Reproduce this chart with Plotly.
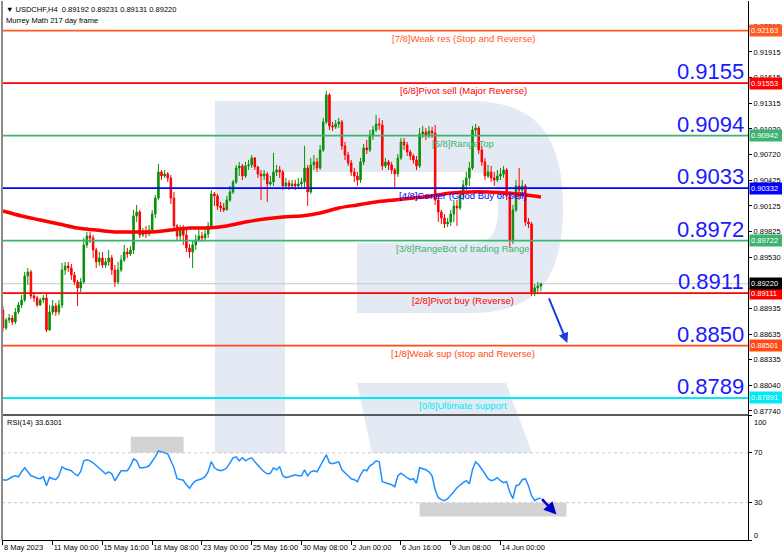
import plotly.graph_objects as go

# ---------------- data ----------------
symbol_header = "\u25BC USDCHF,H4  0.89192 0.89231 0.89131 0.89220"
indicator_header = "Murrey Math 217 day frame"
rsi_header = "RSI(14) 33.6301"

first_open = 0.88915
close5 = [
    88705, 88798, 88821, 88775, 88891, 88973, 89031, 89310, 89357, 89078,
    89054, 88973, 89031, 89054, 88682, 88891, 88961, 88891, 88973, 89380,
    89427, 89403, 89322, 89241, 89171, 89241, 89671, 89775, 89752, 89613,
    89473, 89520, 89438, 89473, 89520, 89380, 89241, 89380, 89496, 89589,
    89566, 89613, 90008, 90054, 89787, 89822, 89799, 89845, 90031, 90217,
    90520, 90473, 90496, 90450, 90217, 89892, 89775, 89845, 89787, 89636,
    89589, 89671, 89729, 89775, 89752, 89799, 89892, 90264, 90241, 90124,
    90101, 90078, 90194, 90287, 90403, 90566, 90590, 90473, 90590, 90601,
    90683, 90578, 90496, 90473, 90496, 90380, 90403, 90520, 90543, 90520,
    90357, 90392, 90357, 90380, 90357, 90380, 90403, 90566, 90287, 90601,
    90636, 90566, 90776, 91101, 91415, 91055, 91043, 91078, 91101, 90822,
    90717, 90624, 90520, 90473, 90427, 90636, 90799, 90776, 90950, 91008,
    91078, 91066, 90590, 90636, 90601, 90543, 90496, 90683, 90869, 90834,
    90752, 90706, 90659, 90590, 90962, 90985, 90950, 90996, 90973, 90194,
    90054, 89985, 89915, 89938, 90031, 90124, 90101, 90252, 90369, 90450,
    90566, 91008, 91031, 90776, 90636, 90473, 90520, 90450, 90427, 90473,
    90496, 90543, 90241, 89729, 90078, 90357, 90310, 90357, 89938, 89915,
    89124, 89171, 89192, 89220]
high5 = [
    88962, 88821, 88868, 88856, 88938, 89008, 89089, 89357, 89403, 89380,
    89124, 89078, 89054, 89089, 89101, 88973, 89031, 88996, 89031, 89462,
    89473, 89473, 89450, 89357, 89264, 89287, 89752, 89822, 89822, 89787,
    89636, 89589, 89589, 89520, 89613, 89555, 89438, 89473, 89555, 89671,
    89636, 89659, 90078, 90136, 90078, 89868, 89892, 89903, 90078, 90252,
    90613, 90543, 90543, 90520, 90485, 90287, 89915, 89903, 89903, 89845,
    89682, 89729, 89787, 89845, 89822, 89845, 89938, 90310, 90287, 90264,
    90171, 90159, 90241, 90357, 90427, 90601, 90636, 90613, 90636, 90659,
    90717, 90694, 90590, 90543, 90543, 90520, 90473, 90741, 90601, 90590,
    90543, 90450, 90427, 90427, 90427, 90450, 90450, 90822, 90601, 90683,
    90717, 90683, 90834, 91148, 91462, 91438, 91101, 91124, 91148, 91124,
    90869, 90752, 90659, 90566, 90520, 90683, 90845, 90892, 91008, 91055,
    91183, 91148, 91124, 90683, 90659, 90636, 90566, 90729, 90915, 90915,
    90869, 90776, 90729, 90706, 91031, 91055, 91031, 91055, 91043, 91066,
    90241, 90078, 90031, 89985, 90078, 90194, 90194, 90310, 90427, 90520,
    90636, 91055, 91078, 91055, 90822, 90683, 90601, 90590, 90520, 90543,
    90566, 90590, 90566, 90252, 90136, 90427, 90566, 90427, 90380, 89985,
    89938, 89217, 89241, 89231]
low5 = [
    88659, 88682, 88763, 88740, 88752, 88868, 88938, 89008, 89206, 89043,
    89008, 88950, 88961, 88996, 88659, 88671, 88856, 88845, 88856, 88938,
    89322, 89357, 89264, 89206, 88961, 89124, 89217, 89636, 89694, 89520,
    89403, 89427, 89403, 89403, 89427, 89322, 89182, 89217, 89357, 89473,
    89520, 89543, 89566, 89938, 89752, 89764, 89752, 89775, 89822, 89985,
    90194, 90427, 90450, 90403, 90147, 89845, 89729, 89729, 89671, 89589,
    89520, 89403, 89613, 89706, 89706, 89729, 89752, 89868, 90124, 90078,
    90054, 90054, 90078, 90171, 90264, 90380, 90473, 90427, 90450, 90543,
    90566, 90543, 90450, 90194, 90427, 90171, 90357, 90357, 90473, 90450,
    90310, 90334, 90310, 90334, 90310, 90334, 90345, 90334, 90124, 90264,
    90543, 90520, 90543, 90752, 91078, 91008, 90996, 91020, 91031, 90776,
    90659, 90590, 90473, 90403, 90357, 90392, 90601, 90729, 90752, 90892,
    90985, 91008, 90543, 90566, 90543, 90496, 90345, 90462, 90659, 90776,
    90706, 90659, 90613, 90543, 90566, 90915, 90892, 90915, 90915, 90136,
    89938, 89915, 89868, 89880, 89892, 89938, 89892, 90078, 90194, 90310,
    90357, 90543, 90938, 90729, 90590, 90427, 90450, 90403, 90357, 90403,
    90427, 90450, 90194, 89636, 89682, 90054, 90194, 90241, 89892, 89868,
    89078, 89078, 89124, 89131]

rsi_vals = [
    48.4, 48.0, 49.2, 50.8, 51.6, 50.8, 54.8, 58.0, 54.8, 51.6,
    50.8, 49.6, 49.2, 50.8, 43.6, 50.4, 49.2, 48.4, 51.6, 58.8,
    57.2, 56.4, 55.6, 53.2, 51.6, 54.8, 63.6, 64.4, 63.6, 62.0,
    59.6, 58.0, 55.6, 53.2, 54.8, 53.2, 47.6, 51.6, 55.6, 55.6,
    55.6, 59.6, 65.2, 63.6, 58.0, 58.0, 58.4, 59.6, 62.8, 66.8,
    71.6, 70.8, 70.0, 69.2, 63.6, 58.0, 49.2, 48.4, 48.0, 44.4,
    41.6, 45.2, 47.6, 48.4, 49.2, 50.8, 54.8, 63.0, 58.0, 56.4,
    55.6, 56.4, 58.0, 62.0, 66.0, 66.8, 63.6, 66.0, 63.6, 65.2,
    66.0, 62.8, 59.6, 57.2, 54.8, 53.2, 53.6, 58.0, 56.4, 58.8,
    51.6, 50.0, 50.8, 51.6, 52.4, 51.6, 51.6, 56.4, 51.6, 54.8,
    55.6, 54.8, 59.6, 64.4, 68.4, 62.0, 61.2, 62.0, 62.8, 56.4,
    53.6, 51.6, 49.2, 48.4, 46.8, 52.4, 56.4, 55.6, 59.6, 61.2,
    63.6, 62.8, 46.8, 46.0, 45.2, 44.4, 42.8, 51.6, 53.6, 51.6,
    50.0, 48.4, 49.2, 45.6, 58.0, 57.2, 56.4, 54.8, 51.6, 40.4,
    34.0, 32.4, 31.6, 33.2, 35.6, 38.8, 42.0, 44.4, 46.0, 47.6,
    45.2, 56.4, 62.8, 60.4, 57.2, 53.2, 49.2, 47.6, 48.4, 50.0,
    47.6, 46.0, 46.8, 38.4, 33.2, 43.6, 44.4, 48.4, 49.2, 43.6,
    35.6, 31.6, 33.2, 33.63]

ma_bar = [0, 6, 12, 18, 24, 30, 36, 42, 48, 54, 60, 66, 72, 78, 84, 90, 96,
          102, 108, 114, 120, 126, 132, 138, 144, 150, 156, 162, 168, 173]
ma_val = [0.90066, 0.90008, 0.89961, 0.89915, 0.89868, 0.89845, 0.89822,
          0.89822, 0.89822, 0.89845, 0.89868, 0.89868, 0.89892, 0.89938,
          0.89973, 0.89996, 0.90008, 0.90043, 0.90101, 0.90136, 0.90171,
          0.90194, 0.90217, 0.90241, 0.90275, 0.90287, 0.90287, 0.90275,
          0.90252, 0.90229]

time_tick_bar = [0, 16, 32, 48, 64, 80, 96, 112, 128, 144, 160]
time_tick_text = ["8 May 2023", "11 May 00:00", "15 May 16:00", "18 May 08:00",
                  "23 May 00:00", "25 May 16:00", "30 May 08:00", "2 Jun 00:00",
                  "6 Jun 16:00", "9 Jun 08:00", "14 Jun 00:00"]

price_ticks = [0.92215, 0.91915, 0.91615, 0.91315, 0.91020, 0.90720, 0.90425,
               0.90125, 0.89825, 0.89530, 0.88935, 0.88635, 0.88335,
               0.88040, 0.87740]
rsi_ticks = [100, 70, 30, 0]
rsi_tick_shift = [-7, 0, 0, 5]

murrey_levels = [0.92163, 0.91553, 0.90942, 0.90332, 0.89722, 0.89111, 0.88501, 0.87891]
murrey_names = ["[7/8]Weak res (Stop and Reverse)", "[6/8]Pivot sell (Major Reverse)",
                "[5/8]RangeTop", "[4/8]Center (Good Buy or Sell)",
                "[3/8]RangeBot of trading Range", "[2/8]Pivot buy (Reverse)",
                "[1/8]Weak sup (stop and Reverse)", "[0/8]Ultimate support"]
murrey_big = ["", "0.9155", "0.9094", "0.9033", "0.8972", "0.8911", "0.8850", "0.8789"]
murrey_colors = ["#ff5a1f", "#ff0000", "#3cb371", "#0000ff", "#3cb371", "#ff0000", "#ff4a14", "#00eaf5"]

current_price = 0.89220

# arrows (tail -> head)
price_arrow = dict(x0=175.4, y0=0.89066, x1=181.5, y1=0.88531)
rsi_arrow = dict(x0=172.9, y0=34.0, x1=178.0, y1=20.4)
rsi_boxes = [dict(x0=41.1, x1=58.1, y0=70, y1=83), dict(x0=134.0, x1=181.2, y0=18.8, y1=30)]

# ---------------- build ----------------
close_p = [v / 1e5 for v in close5]
open_p = [first_open] + close_p[:-1]
high_p = [max(h / 1e5, o, c) for h, o, c in zip(high5, open_p, close_p)]
low_p = [min(l / 1e5, o, c) for l, o, c in zip(low5, open_p, close_p)]
bars = list(range(len(close_p)))

fig = go.Figure()
fig.add_trace(go.Candlestick(
    x=bars, open=open_p, high=high_p, low=low_p, close=close_p,
    increasing=dict(line=dict(color="#0b8f0b", width=1), fillcolor="#0b8f0b"),
    decreasing=dict(line=dict(color="#ff0000", width=1), fillcolor="#ff0000"),
    whiskerwidth=0, showlegend=False, hoverinfo="skip", xaxis="x", yaxis="y"))
fig.add_trace(go.Scatter(x=ma_bar, y=ma_val, mode="lines", line=dict(color="#ff0000", width=3.5, shape="spline"),
                         showlegend=False, hoverinfo="skip", xaxis="x", yaxis="y"))
fig.add_trace(go.Scatter(x=bars, y=rsi_vals, mode="lines", line=dict(color="#1e90ff", width=1.5),
                         showlegend=False, hoverinfo="skip", xaxis="x2", yaxis="y2"))

XR = [-0.3, 239.6]
MAIN_DOM = [0.2338, 1.0]
RSI_DOM = [0.0, 0.231]

def px(v):
    return (v - 2) / 746.0

def py(v):
    return (540 - v) / 539.0

shapes = []
wm = "#e4eaf3"
# watermark "R"
shapes.append(dict(type="rect", xref="paper", yref="paper", x0=px(215), x1=px(285), y0=py(453), y1=py(101),
                   fillcolor=wm, line=dict(width=0), layer="below"))
bowl = ("M {a},{t} L {b},{t} C {c},{t} {r},{m1} {r},{mid} C {r},{m2} {c},{bo} {b},{bo} "
        "L {s},{bo} L {s},{ib} L {b},{ib} C {ic},{ib} {ir},{im2} {ir},{mid} C {ir},{im1} {ic},{it} {b},{it} "
        "L {a},{it} Z").format(a=px(285), b=px(470), c=px(540), r=px(563), s=px(357), ic=px(490), ir=px(498),
                               t=py(101), bo=py(313), mid=py(207), m1=py(140), m2=py(275), it=py(172), ib=py(243),
                               im1=py(180), im2=py(235))
shapes.append(dict(type="path", xref="paper", yref="paper", path=bowl, fillcolor=wm, line=dict(width=0), layer="below"))
leg = "M {},{} L {},{} L {},{} L {},{} Z".format(px(357), py(383), px(506), py(383), px(532), py(453), px(372), py(453))
shapes.append(dict(type="path", xref="paper", yref="paper", path=leg, fillcolor=wm, line=dict(width=0), layer="below"))

# RSI boxes and levels
for b in rsi_boxes:
    shapes.append(dict(type="rect", xref="x2", yref="y2", x0=b["x0"], x1=b["x1"], y0=b["y0"], y1=b["y1"],
                       fillcolor="#d3d3d3", line=dict(width=0), layer="below"))
for lv in [70, 30]:
    shapes.append(dict(type="line", xref="paper", yref="y2", x0=0, x1=1, y0=lv, y1=lv,
                       line=dict(color="#c8c8c8", width=1, dash="dot"), layer="below"))
# current price line
shapes.append(dict(type="line", xref="paper", yref="y", x0=0, x1=1, y0=current_price, y1=current_price,
                   line=dict(color="#c8c8c8", width=1), layer="below"))
# murrey lines
for lv, col in zip(murrey_levels, murrey_colors):
    shapes.append(dict(type="line", xref="paper", yref="y", x0=0, x1=1, y0=lv, y1=lv,
                       line=dict(color=col, width=1.8)))
# left border
shapes.append(dict(type="line", xref="paper", yref="paper", x0=0, x1=0, y0=0, y1=1,
                   line=dict(color="#8a8a8a", width=2)))

ann = []
ann.append(dict(text=symbol_header, xref="paper", yref="paper", x=0, y=1, xanchor="left", yanchor="top",
                xshift=2, yshift=-2, showarrow=False, font=dict(size=7.5, color="#000000", family="Liberation Sans")))
ann.append(dict(text=indicator_header, xref="paper", yref="paper", x=0, y=1, xanchor="left", yanchor="top",
                xshift=2, yshift=-13, showarrow=False, font=dict(size=7.5, color="#000000", family="Liberation Sans")))
ann.append(dict(text=rsi_header, xref="paper", yref="paper", x=0, y=RSI_DOM[1], xanchor="left", yanchor="top",
                xshift=3, yshift=-1, showarrow=False, font=dict(size=7.5, color="#000000", family="Liberation Sans")))

for lv, name, big, col in zip(murrey_levels, murrey_names, murrey_big, murrey_colors):
    ann.append(dict(text=name, xref="x", yref="y", x=148, y=lv, xanchor="center", yanchor="top", yshift=0,
                    showarrow=False, font=dict(size=9.5, color=col, family="Liberation Sans")))
    if big:
        ann.append(dict(text=big, xref="paper", yref="y", x=1, y=lv, xanchor="right", yanchor="bottom",
                        xshift=-2, yshift=-3, showarrow=False,
                        font=dict(size=22, color="#1a1aff", family="Liberation Sans")))
    ann.append(dict(text="%.5f" % lv, xref="paper", yref="y", x=1, y=lv, xanchor="left", yanchor="middle",
                    xshift=1, showarrow=False, bgcolor=col, borderpad=1, width=30, align="left",
                    font=dict(size=7.5, color="#ffffff", family="Liberation Sans")))
ann.append(dict(text="%.5f" % current_price, xref="paper", yref="y", x=1, y=current_price, xanchor="left",
                yanchor="middle", xshift=1, showarrow=False, bgcolor="#000000", borderpad=1, width=30, align="left",
                font=dict(size=7.5, color="#ffffff", family="Liberation Sans")))
# RSI scale labels (MT4 puts the end labels inside the window)
for v, sh in zip(rsi_ticks, rsi_tick_shift):
    ann.append(dict(text=str(v), xref="paper", yref="y2", x=1, y=v, xanchor="left", yanchor="middle",
                    xshift=4, yshift=sh, showarrow=False, font=dict(size=7.5, color="#000000", family="Liberation Sans")))

ann.append(dict(x=price_arrow["x1"], y=price_arrow["y1"], ax=price_arrow["x0"], ay=price_arrow["y0"],
                xref="x", yref="y", axref="x", ayref="y", showarrow=True, arrowhead=2, arrowsize=1,
                arrowwidth=2, arrowcolor="#1a3ee0", text=""))
ann.append(dict(x=rsi_arrow["x1"], y=rsi_arrow["y1"], ax=rsi_arrow["x0"], ay=rsi_arrow["y0"],
                xref="x2", yref="y2", axref="x2", ayref="y2", showarrow=True, arrowhead=2, arrowsize=1,
                arrowwidth=2.5, arrowcolor="#0000cd", text=""))

fig.update_layout(
    width=782, height=556,
    margin=dict(l=2, r=34, t=1, b=16, autoexpand=False),
    paper_bgcolor="#ffffff", plot_bgcolor="#ffffff",
    font=dict(family="Liberation Sans", size=7.5, color="#000000"),
    showlegend=False,
    shapes=shapes, annotations=ann,
    xaxis=dict(domain=[0, 1], anchor="y", range=XR, showgrid=False, zeroline=False, showticklabels=False,
               ticks="", rangeslider=dict(visible=False), showline=True, linecolor="#5a5a5a", linewidth=2,
               automargin=False),
    yaxis=dict(domain=MAIN_DOM, anchor="x", side="right", range=[0.87705, 0.92508], showgrid=False,
               zeroline=False, tickvals=price_ticks, ticktext=["%.5f" % v for v in price_ticks],
               ticks="outside", ticklen=3, tickcolor="#000000", tickfont=dict(size=7.5),
               showline=True, linecolor="#000000", linewidth=1, automargin=False),
    xaxis2=dict(domain=[0, 1], anchor="y2", range=XR, matches="x", showgrid=False, zeroline=False,
                tickvals=time_tick_bar, ticktext=time_tick_text, ticks="outside", ticklen=4, tickangle=0,
                tickcolor="#000000", ticklabelposition="outside right", tickfont=dict(size=7.5),
                showline=True, linecolor="#000000", linewidth=1, automargin=False),
    yaxis2=dict(domain=RSI_DOM, anchor="x2", side="right", range=[0, 100], showgrid=False, zeroline=False,
                tickvals=rsi_ticks, showticklabels=False, ticks="outside", ticklen=3,
                tickcolor="#000000", showline=True, linecolor="#000000", linewidth=1,
                automargin=False),
)

fig.write_html("out.html", config={"displayModeBar": False},
               post_script="document.body.style.margin='0';")
